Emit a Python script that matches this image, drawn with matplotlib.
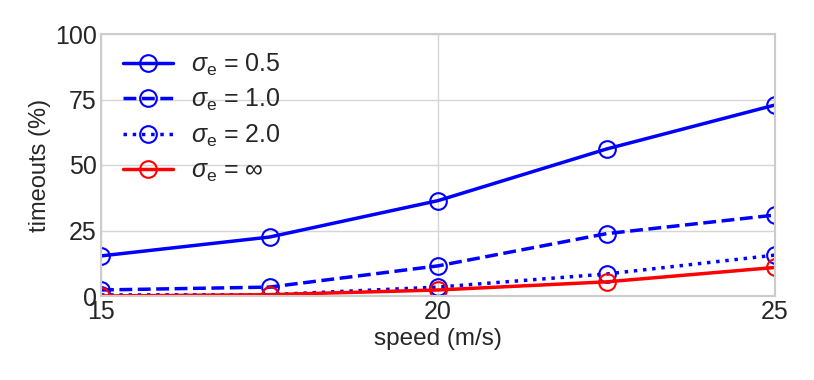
import numpy as np
import matplotlib.pyplot as plt
import seaborn as sns

speed = [15, 17.5, 20, 22.5, 25]
sigma05 = [15.3, 22.5, 36.4, 56.1, 72.9]
sigma10 = [2.3, 3.4, 11.5, 23.8, 30.9]
sigma20 = [0.4, 0.5, 3.4, 8.4, 15.6]
sigma_inf = [0.0, 0.5, 2.3, 5.4, 10.9]

sns.set_style('whitegrid')
plt.rcParams['font.family'] = ['Liberation Sans', 'DejaVu Sans']
plt.rcParams['mathtext.fontset'] = 'custom'
plt.rcParams['mathtext.rm'] = 'Liberation Sans'
plt.rcParams['mathtext.it'] = 'Liberation Sans:italic'

fig = plt.figure(figsize=(8.14, 3.8), dpi=100)
ax = fig.add_axes([101 / 814, 1 - 296 / 380, 674 / 814, 262 / 380])

kw = dict(marker='o', markersize=12, markerfacecolor='none', markeredgewidth=1.5, linewidth=2.5)
ax.plot(speed, sigma05, color='blue', linestyle='-', label=r'$\sigma_\mathrm{e}$ = 0.5', **kw)
ax.plot(speed, sigma10, color='blue', linestyle='--', label=r'$\sigma_\mathrm{e}$ = 1.0', **kw)
ax.plot(speed, sigma20, color='blue', linestyle=':', label=r'$\sigma_\mathrm{e}$ = 2.0', **kw)
ax.plot(speed, sigma_inf, color='red', linestyle='-', label=r'$\sigma_\mathrm{e}$ = $\infty$', **kw)

ax.set_xlim(15, 25)
ax.set_ylim(0, 100)
ax.set_xticks([15, 20, 25])
ax.set_yticks([0, 25, 50, 75, 100])
ax.tick_params(labelsize=18, pad=3, length=0)
ax.set_xlabel('speed (m/s)', fontsize=17.5, labelpad=3)
ax.set_ylabel('timeouts (%)', fontsize=17, labelpad=3)
for s in ax.spines.values():
    s.set_color('#cccccc')
    s.set_linewidth(1.5)
ax.grid(color='#d5d5d5', linewidth=1)

ax.legend(loc='upper left', bbox_to_anchor=(0.006, 1.0), fontsize=18, frameon=False,
          handlelength=2.0, handletextpad=0.75, labelspacing=0.38, borderaxespad=0.3)

fig.savefig('out.png', dpi=100)
